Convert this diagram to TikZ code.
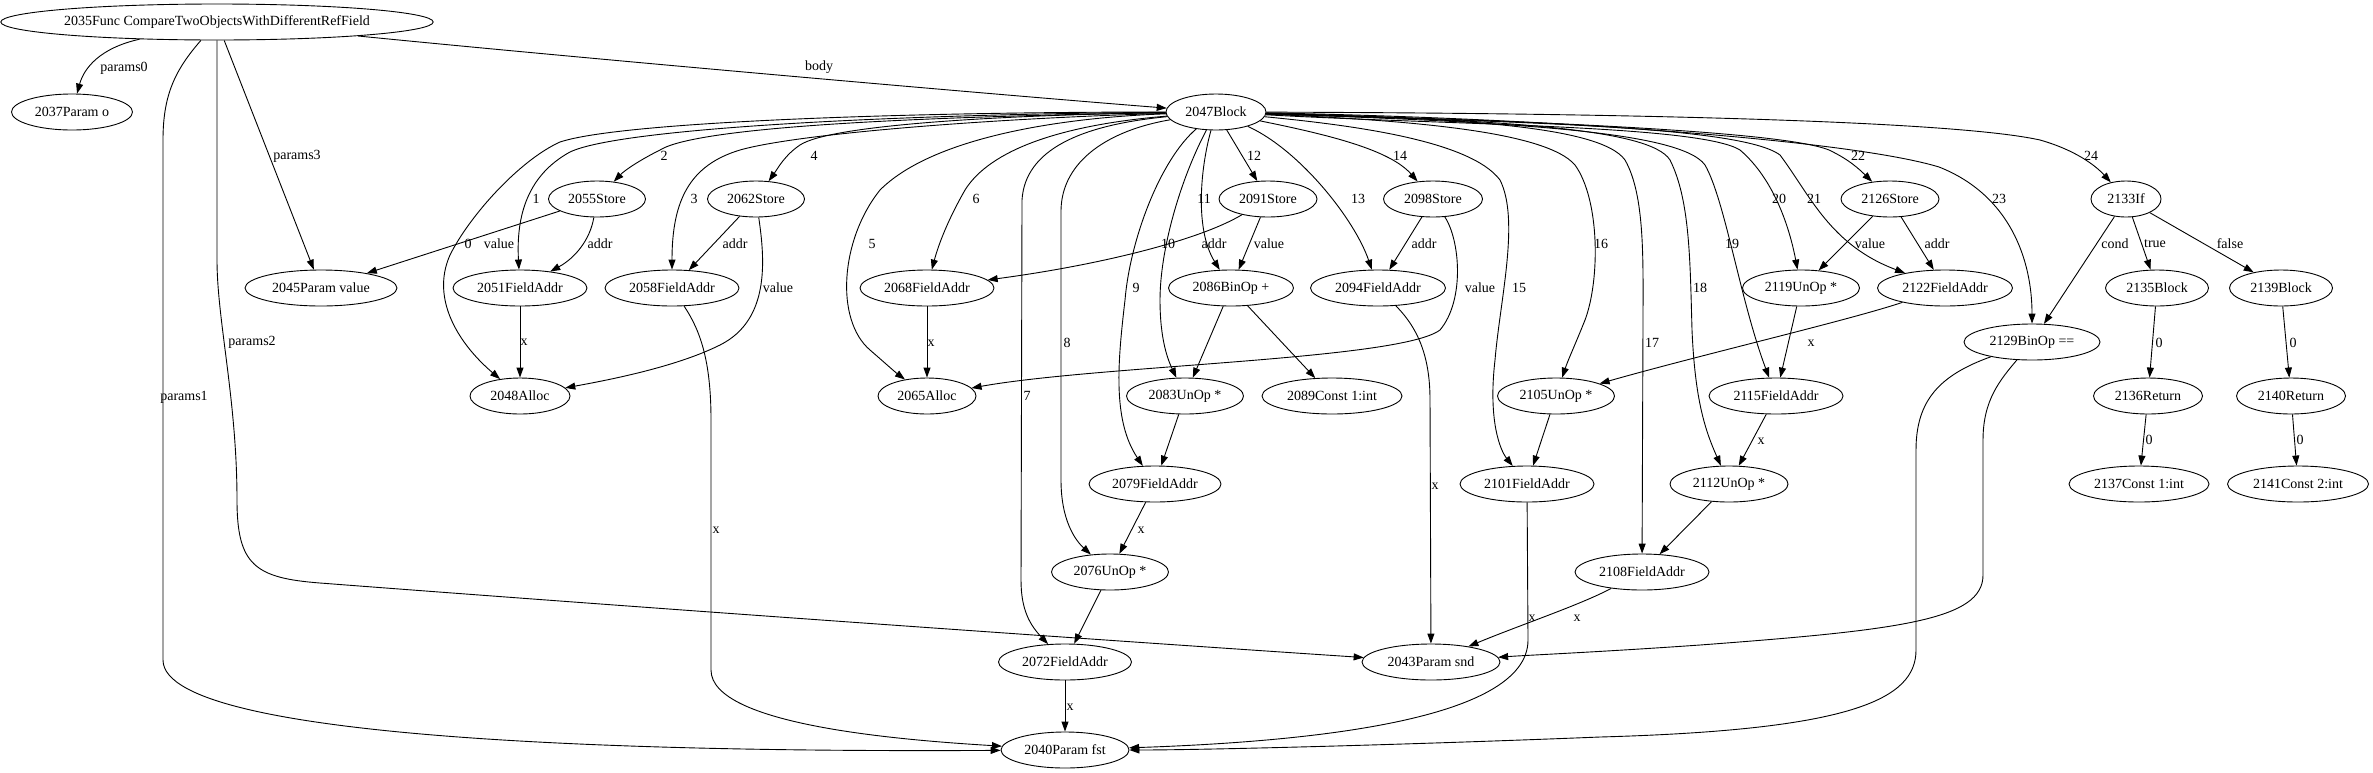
\documentclass[tikz,border=0pt]{standalone}
\usepackage{fontspec}
\setmainfont{Liberation Serif}
\usetikzlibrary{shapes.geometric,arrows.meta}
\begin{document}
\begin{tikzpicture}[x=1pt,y=-1pt,font=\fontsize{14}{16}\selectfont,
  nd/.style={draw, ellipse, inner sep=0pt, minimum height=36pt, line width=0.9pt},
  e/.style={draw, line width=0.9pt, -{Triangle[length=10pt,width=7pt]}},
  lab/.style={inner sep=0pt}]
\fill[white] (0,0) rectangle (2373,772);
\path[use as bounding box] (0,0) rectangle (2373,772);
% nodes
\node[nd, minimum width=430pt] (f2035) at (217,22) {2035Func CompareTwoObjectsWithDifferentRefField};
\node[nd, minimum width=121pt] (p2037) at (72,112) {2037Param o};
\node[nd, minimum width=100pt] (b2047) at (1216,112) {2047Block};
\node[nd, minimum width=97pt] (s2055) at (597,199) {2055Store};
\node[nd, minimum width=97pt] (s2062) at (756,199) {2062Store};
\node[nd, minimum width=98pt] (s2091) at (1268,199) {2091Store};
\node[nd, minimum width=99pt] (s2098) at (1433,199) {2098Store};
\node[nd, minimum width=98pt] (s2126) at (1890,199) {2126Store};
\node[nd, minimum width=70pt] (i2133) at (2126,199) {2133If};
\node[nd, minimum width=152pt] (p2045) at (321,288) {2045Param value};
\node[nd, minimum width=134pt] (fa2051) at (520,288) {2051FieldAddr};
\node[nd, minimum width=134pt] (fa2058) at (672,288) {2058FieldAddr};
\node[nd, minimum width=134pt] (fa2068) at (927,288) {2068FieldAddr};
\node[nd, minimum width=125pt] (bo2086) at (1231,288) {2086BinOp +};
\node[nd, minimum width=135pt] (fa2094) at (1378,288) {2094FieldAddr};
\node[nd, minimum width=117pt] (u2119) at (1801,288) {2119UnOp *};
\node[nd, minimum width=135pt] (fa2122) at (1945,288) {2122FieldAddr};
\node[nd, minimum width=103pt] (bl2135) at (2157,288) {2135Block};
\node[nd, minimum width=103pt] (bl2139) at (2281,288) {2139Block};
\node[nd, minimum width=136pt] (bo2129) at (2032,342) {2129BinOp ==};
\node[nd, minimum width=100pt] (a2048) at (520,396) {2048Alloc};
\node[nd, minimum width=98pt] (a2065) at (927,396) {2065Alloc};
\node[nd, minimum width=117pt] (u2083) at (1185,396) {2083UnOp *};
\node[nd, minimum width=140pt] (c2089) at (1332,396) {2089Const 1:int};
\node[nd, minimum width=117pt] (u2105) at (1556,396) {2105UnOp *};
\node[nd, minimum width=134pt] (fa2115) at (1776,396) {2115FieldAddr};
\node[nd, minimum width=109pt] (r2136) at (2148,396) {2136Return};
\node[nd, minimum width=109pt] (r2140) at (2291,396) {2140Return};
\node[nd, minimum width=132pt] (fa2079) at (1155,484) {2079FieldAddr};
\node[nd, minimum width=134pt] (fa2101) at (1527,484) {2101FieldAddr};
\node[nd, minimum width=118pt] (u2112) at (1729,484) {2112UnOp *};
\node[nd, minimum width=140pt] (c2137) at (2139,484) {2137Const 1:int};
\node[nd, minimum width=141pt] (c2141) at (2298,484) {2141Const 2:int};
\node[nd, minimum width=117pt] (u2076) at (1110,572) {2076UnOp *};
\node[nd, minimum width=134pt] (fa2108) at (1642,572) {2108FieldAddr};
\node[nd, minimum width=133pt] (fa2072) at (1065,662) {2072FieldAddr};
\node[nd, minimum width=138pt] (p2043) at (1431,662) {2043Param snd};
\node[nd, minimum width=128pt] (p2040) at (1065,750) {2040Param fst};
% Func edges
\draw[e] (f2035) .. controls (100,48) and (84,68) .. (p2037);
\node[lab] (lp0) at (124,68) {params0};
\draw[e] (f2035) .. controls (175,70) and (163,95) .. (163,140) -- (163,660) .. controls (163,745) and (700,752) .. (p2040);
\node[lab] (lp1) at (184,397) {params1};
\draw[e] (f2035) .. controls (217,100) and (217,200) .. (217,260) .. controls (217,320) and (237,400) .. (237,500) .. controls (237,565) and (255,578) .. (320,583) .. controls (700,612) and (1100,640) .. (p2043);
\node[lab] (lp2) at (252,342) {params2};
\draw[e] (f2035) -- (p2045);
\node[lab] (lp3) at (297,156) {params3};
\draw[e] (f2035) .. controls (600,60) and (1000,95) .. (b2047);
\node[lab] (lb) at (819,67) {body};
% Block edges
\draw[e] (b2047) .. controls (900,112) and (620,122) .. (560,142) .. controls (520,160) and (470,215) .. (450,255) .. controls (430,300) and (460,345) .. (a2048);
\node[lab] (l0) at (468,244) {0};
\draw[e] (b2047) .. controls (900,114) and (620,128) .. (570,152) .. controls (528,175) and (516,215) .. (fa2051);
\node[lab] (l1) at (536,199) {1};
\draw[e] (b2047) .. controls (950,116) and (700,125) .. (660,150) .. controls (640,160) and (625,170) .. (s2055);
\node[lab] (l2) at (664,156) {2};
\draw[e] (b2047) .. controls (1000,118) and (800,133) .. (740,150) .. controls (690,165) and (672,200) .. (fa2058);
\node[lab] (l3) at (694,199) {3};
\draw[e] (b2047) .. controls (1000,115) and (830,125) .. (800,145) .. controls (785,155) and (778,168) .. (s2062);
\node[lab] (l4) at (814,156) {4};
\draw[e] (b2047) .. controls (1050,118) and (930,140) .. (880,190) .. controls (840,240) and (835,320) .. (870,350) .. controls (885,363) and (895,372) .. (a2065);
\node[lab] (l5) at (872,244) {5};
\draw[e] (b2047) .. controls (1060,125) and (990,150) .. (965,190) .. controls (945,225) and (937,250) .. (fa2068);
\node[lab] (l6) at (976,199) {6};
\draw[e] (b2047) .. controls (1080,125) and (1025,150) .. (1022,200) -- (1021,580) .. controls (1021,610) and (1030,625) .. (fa2072);
\node[lab] (l7) at (1027,396) {7};
\draw[e] (b2047) .. controls (1110,130) and (1062,160) .. (1061,210) -- (1061,480) .. controls (1061,520) and (1075,540) .. (u2076);
\node[lab] (l8) at (1067,343) {8};
\draw[e] (b2047) .. controls (1160,160) and (1130,240) .. (1125,300) .. controls (1118,360) and (1112,420) .. (fa2079);
\node[lab] (l9) at (1136,288) {9};
\draw[e] (b2047) .. controls (1180,180) and (1160,250) .. (1160,300) .. controls (1160,340) and (1168,360) .. (u2083);
\node[lab] (l10) at (1168,244) {10};
\draw[e] (b2047) .. controls (1200,170) and (1195,230) .. (bo2086);
\node[lab] (l11) at (1204,199) {11};
\draw[e] (b2047) -- (s2091);
\node[lab] (l12) at (1254,156) {12};
\draw[e] (b2047) .. controls (1300,150) and (1355,220) .. (fa2094);
\node[lab] (l13) at (1358,199) {13};
\draw[e] (b2047) .. controls (1330,135) and (1390,150) .. (s2098);
\node[lab] (l14) at (1400,156) {14};
\draw[e] (b2047) .. controls (1350,125) and (1470,140) .. (1500,180) .. controls (1520,220) and (1500,300) .. (1495,360) .. controls (1488,420) and (1500,450) .. (fa2101);
\node[lab] (l15) at (1519,288) {15};
\draw[e] (b2047) .. controls (1400,120) and (1545,130) .. (1575,165) .. controls (1600,200) and (1600,280) .. (1585,320) .. controls (1575,345) and (1568,360) .. (u2105);
\node[lab] (l16) at (1601,244) {16};
\draw[e] (b2047) .. controls (1450,118) and (1600,125) .. (1625,160) .. controls (1645,195) and (1643,260) .. (1643,320) -- (fa2108);
\node[lab] (l17) at (1652,343) {17};
\draw[e] (b2047) .. controls (1500,120) and (1650,128) .. (1670,160) .. controls (1690,200) and (1690,260) .. (1692,330) .. controls (1695,400) and (1705,430) .. (u2112);
\node[lab] (l18) at (1700,288) {18};
\draw[e] (b2047) .. controls (1500,122) and (1680,130) .. (1705,165) .. controls (1725,200) and (1740,300) .. (fa2115);
\node[lab] (l19) at (1732,244) {19};
\draw[e] (b2047) .. controls (1450,125) and (1700,125) .. (1740,150) .. controls (1775,180) and (1790,230) .. (u2119);
\node[lab] (l20) at (1779,199) {20};
\draw[e] (b2047) .. controls (1500,122) and (1740,125) .. (1780,155) .. controls (1810,195) and (1830,245) .. (fa2122);
\node[lab] (l21) at (1814,199) {21};
\draw[e] (b2047) .. controls (1500,120) and (1780,130) .. (1829,150) .. controls (1850,160) and (1860,170) .. (s2126);
\node[lab] (l22) at (1858,156) {22};
\draw[e] (b2047) .. controls (1550,118) and (1850,140) .. (1939,167) .. controls (2010,195) and (2032,260) .. (bo2129);
\node[lab] (l23) at (1999,199) {23};
\draw[e] (b2047) .. controls (1600,113) and (1950,120) .. (2040,140) .. controls (2075,150) and (2095,165) .. (i2133);
\node[lab] (l24) at (2091,156) {24};
% Store edges
\draw[e] (s2055) -- (p2045);
\node[lab] (lv1) at (499,244) {value};
\draw[e] (s2055) .. controls (590,240) and (575,258) .. (fa2051);
\node[lab] (la1) at (600,244) {addr};
\draw[e] (s2062) -- (fa2058);
\node[lab] (la2) at (735,244) {addr};
\draw[e] (s2062) .. controls (765,260) and (770,320) .. (720,345) .. controls (680,365) and (620,378) .. (a2048);
\node[lab] (lv2) at (778,288) {value};
\draw[e] (s2091) .. controls (1200,240) and (1100,265) .. (fa2068);
\node[lab] (la3) at (1214,244) {addr};
\draw[e] (s2091) -- (bo2086);
\node[lab] (lv3) at (1269,244) {value};
\draw[e] (s2098) -- (fa2094);
\node[lab] (la4) at (1424,244) {addr};
\draw[e] (s2098) .. controls (1460,240) and (1465,300) .. (1440,330) .. controls (1400,360) and (1100,365) .. (a2065);
\node[lab] (lv4) at (1480,288) {value};
\draw[e] (s2126) -- (u2119);
\node[lab] (lv5) at (1870,244) {value};
\draw[e] (s2126) -- (fa2122);
\node[lab] (la5) at (1937,244) {addr};
% If
\draw[e] (i2133) -- (bo2129);
\node[lab] (lc) at (2115,244) {cond};
\draw[e] (i2133) -- (bl2135);
\node[lab] (lt) at (2155,244) {true};
\draw[e] (i2133) -- (bl2139);
\node[lab] (lf) at (2230,244) {false};
\draw[e] (bl2135) -- (r2136);
\node[lab] (lz1) at (2159,343) {0};
\draw[e] (r2136) -- (c2137);
\node[lab] (lz2) at (2149,440) {0};
\draw[e] (bl2139) -- (r2140);
\node[lab] (lz3) at (2293,343) {0};
\draw[e] (r2140) -- (c2141);
\node[lab] (lz4) at (2300,440) {0};
% operand edges
\draw[e] (fa2051) -- (a2048);
\node[lab] (lx1) at (524,342) {x};
\draw[e] (fa2068) -- (a2065);
\node[lab] (lx2) at (931,343) {x};
\draw[e] (fa2058) .. controls (700,330) and (711,360) .. (711,420) -- (711,670) .. controls (711,725) and (900,740) .. (p2040);
\node[lab] (lx3) at (716,530) {x};
\draw[e] (bo2086) -- (u2083);
\draw[e] (bo2086) -- (c2089);
\draw[e] (u2083) -- (fa2079);
\draw[e] (fa2079) -- (u2076);
\node[lab] (lx4) at (1141,530) {x};
\draw[e] (u2076) -- (fa2072);
\draw[e] (fa2072) -- (p2040);
\node[lab] (lx5) at (1070,707) {x};
\draw[e] (fa2094) .. controls (1420,330) and (1430,360) .. (1430,400) -- (p2043);
\node[lab] (lx6) at (1435,486) {x};
\draw[e] (u2105) -- (fa2101);
\draw[e] (fa2101) -- (1528,640) .. controls (1528,722) and (1300,742) .. (p2040);
\node[lab] (lx7) at (1532,618) {x};
\draw[e] (fa2108) .. controls (1580,605) and (1520,625) .. (p2043);
\node[lab] (lx8) at (1577,618) {x};
\draw[e] (u2112) -- (fa2108);
\draw[e] (fa2115) -- (u2112);
\node[lab] (lx9) at (1761,441) {x};
\draw[e] (u2119) -- (fa2115);
\draw[e] (fa2122) .. controls (1850,320) and (1700,355) .. (u2105);
\node[lab] (lx10) at (1811,343) {x};
\draw[e] (bo2129) .. controls (1940,375) and (1916,400) .. (1916,450) -- (1916,650) .. controls (1916,700) and (1850,730) .. (1600,737) .. controls (1400,745) and (1200,750) .. (p2040);
\draw[e] (bo2129) .. controls (2000,380) and (1983,400) .. (1983,440) -- (1983,575) .. controls (1983,620) and (1900,630) .. (1700,645) .. controls (1600,652) and (1530,655) .. (p2043);
\end{tikzpicture}
\end{document}
